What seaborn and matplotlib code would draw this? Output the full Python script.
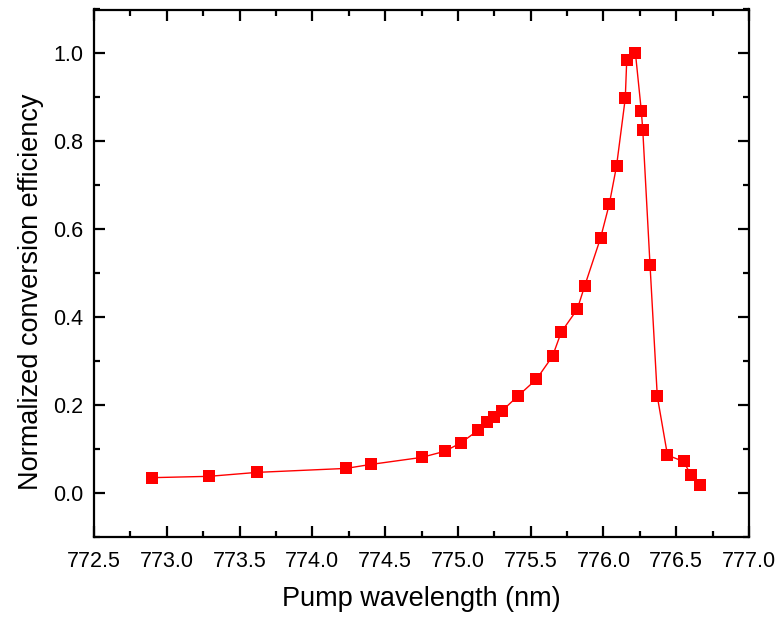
import matplotlib
matplotlib.use("Agg")
import matplotlib.pyplot as plt
from matplotlib.ticker import MultipleLocator, FormatStrFormatter
import seaborn as sns
import pandas as pd

# Pump wavelength (nm) and normalized conversion efficiency
wavelength = [772.90, 773.29, 773.62, 774.23, 774.40, 774.75, 774.91, 775.02,
              775.14, 775.20, 775.25, 775.30, 775.41, 775.54, 775.65, 775.71,
              775.82, 775.87, 775.98, 776.04, 776.09, 776.15, 776.16, 776.22,
              776.26, 776.27, 776.32, 776.37, 776.44, 776.55, 776.60, 776.66]
efficiency = [0.035, 0.038, 0.047, 0.056, 0.065, 0.081, 0.095, 0.114,
              0.143, 0.162, 0.172, 0.186, 0.220, 0.259, 0.311, 0.366,
              0.418, 0.470, 0.580, 0.657, 0.744, 0.898, 0.985, 1.000,
              0.870, 0.827, 0.519, 0.220, 0.086, 0.072, 0.042, 0.019]

df = pd.DataFrame({"wavelength": wavelength, "efficiency": efficiency})

sns.set_theme(style="ticks")
plt.rcParams["font.family"] = ["Liberation Sans", "DejaVu Sans"]

fig = plt.figure(figsize=(7.81, 6.17), dpi=100)
ax = fig.add_axes([94 / 781, 1 - 537 / 617, (749 - 94) / 781, (537 - 9.5) / 617])

sns.lineplot(data=df, x="wavelength", y="efficiency", ax=ax, sort=False,
             color="#ff0000", linewidth=1.0, marker="s", markersize=8.6,
             markeredgewidth=0, markerfacecolor="#ff0000")

ax.set_xlim(772.5, 777.0)
ax.set_ylim(-0.1, 1.1)
ax.xaxis.set_major_locator(MultipleLocator(0.5))
ax.xaxis.set_minor_locator(MultipleLocator(0.25))
ax.yaxis.set_major_locator(MultipleLocator(0.2))
ax.yaxis.set_minor_locator(MultipleLocator(0.1))
ax.xaxis.set_major_formatter(FormatStrFormatter("%.1f"))
ax.yaxis.set_major_formatter(FormatStrFormatter("%.1f"))

for s in ax.spines.values():
    s.set_visible(True)
    s.set_linewidth(1.6)
    s.set_color("black")

ax.tick_params(which="both", direction="in", top=True, right=True,
               color="black", width=1.6)
ax.tick_params(which="major", length=8, labelsize=15.5, labelcolor="black")
ax.tick_params(which="minor", length=4.5)
ax.tick_params(axis="x", which="major", pad=10)
ax.tick_params(axis="y", which="major", pad=8)

ax.set_xlabel("Pump wavelength (nm)", fontsize=19.5, color="black", labelpad=10)
ax.set_ylabel("Normalized conversion efficiency", fontsize=19.5, color="black")
ax.yaxis.set_label_coords(-0.077, 0.4645)

fig.savefig("out.png", dpi=100)
